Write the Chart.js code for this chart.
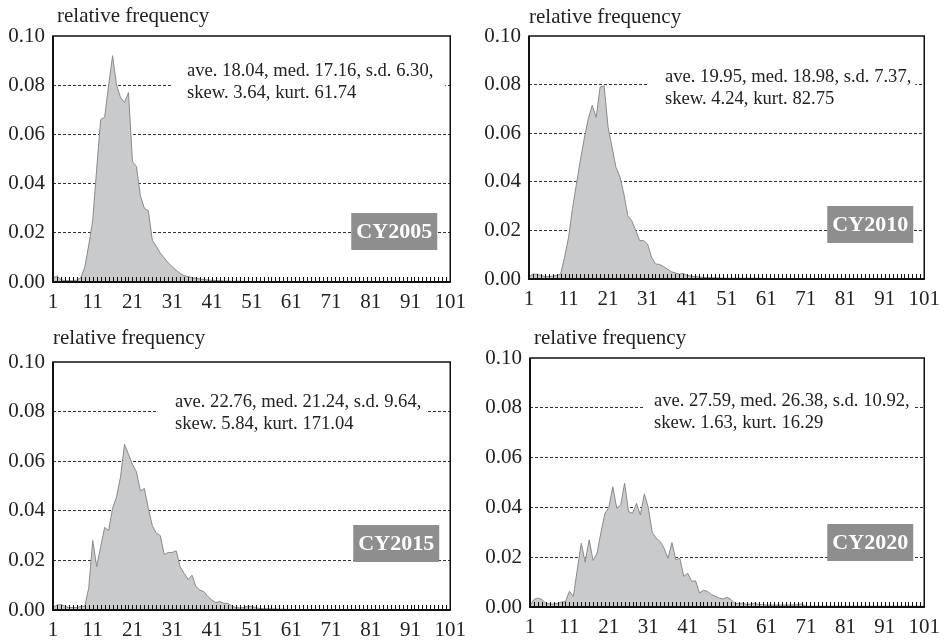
<!DOCTYPE html>
<html>
<head>
<meta charset="utf-8">
<script src="https://cdn.jsdelivr.net/npm/chart.js@4.4.0/dist/chart.umd.min.js"></script>
<style>
  body { margin: 0; background: #fff; }
  canvas { position: absolute; }
</style>
</head>
<body>
<canvas id="c2005" width="474" height="320" style="left:0;top:0"></canvas>
<canvas id="c2010" width="474" height="320" style="left:474px;top:0"></canvas>
<canvas id="c2015" width="474" height="321" style="left:0;top:320px"></canvas>
<canvas id="c2020" width="474" height="321" style="left:474px;top:320px"></canvas>
<script>
// bins 1..101, labelled every 10
const bins = Array.from({ length: 101 }, (_, i) => String(i + 1));
const xTickLabels = ["1", "11", "21", "31", "41", "51", "61", "71", "81", "91", "101"];

// relative frequency per bin
const freq2005 = [
  0.0015, 0.0025, 0.001, 0.0005, 0.0005, 0.0005, 0.0008, 0.0018, 0.006, 0.015,
  0.025, 0.046, 0.066, 0.067, 0.080, 0.092, 0.080, 0.075, 0.073, 0.077,
  0.049, 0.047, 0.035, 0.030, 0.029, 0.017, 0.0145, 0.0118, 0.0098, 0.0078,
  0.0062, 0.0048, 0.0035, 0.0026, 0.0022, 0.0018, 0.0015, 0.0012, 0.001, 0.0008,
  0.0007, 0.0006, 0.0005, 0.0004, 0.0004, 0.0003, 0.0003, 0.0003, 0.0003, 0.0002,
  0.0002, 0.0002, 0.0002, 0.0002, 0.0002, 0.0002, 0.0002, 0.0002, 0.0002, 0.0002,
  0.0002, 0.0002, 0.0002, 0.0002, 0.0002, 0.0002, 0.0002, 0.0002, 0.0002, 0.0002,
  0.0002, 0.0002, 0.0002, 0.0002, 0.0002, 0.0002, 0.0002, 0.0002, 0.0002, 0.0002,
  0.0002, 0.0002, 0.0002, 0.0002, 0.0002, 0.0002, 0.0002, 0.0002, 0.0002, 0.0002,
  0.0002, 0.0002, 0.0002, 0.0002, 0.0002, 0.0002, 0.0002, 0.0002, 0.0002, 0.0002,
  0.0002
];
const freq2010 = [
  0.001, 0.002, 0.002, 0.0015, 0.001, 0.001, 0.0012, 0.0015, 0.002, 0.009,
  0.017, 0.029, 0.039, 0.049, 0.058, 0.066, 0.0715, 0.0665, 0.079, 0.0795,
  0.0626, 0.0543, 0.046, 0.042, 0.035, 0.026, 0.024, 0.020, 0.0158, 0.0158,
  0.0144, 0.0089, 0.0062, 0.006, 0.0052, 0.0041, 0.003, 0.0025, 0.002, 0.0023,
  0.0015, 0.0012, 0.001, 0.0008, 0.0007, 0.0006, 0.0005, 0.0005, 0.0004, 0.0004,
  0.0003, 0.0003, 0.0003, 0.0003, 0.0003, 0.0003, 0.0003, 0.0003, 0.0003, 0.0003,
  0.0002, 0.0002, 0.0002, 0.0002, 0.0002, 0.0002, 0.0002, 0.0002, 0.0002, 0.0002,
  0.0002, 0.0002, 0.0002, 0.0002, 0.0002, 0.0002, 0.0002, 0.0002, 0.0002, 0.0002,
  0.0002, 0.0002, 0.0002, 0.0002, 0.0002, 0.0002, 0.0002, 0.0002, 0.0002, 0.0002,
  0.0002, 0.0002, 0.0002, 0.0002, 0.0002, 0.0002, 0.0002, 0.0002, 0.0002, 0.0002,
  0.0002
];
const freq2015 = [
  0.001, 0.002, 0.0022, 0.0015, 0.001, 0.001, 0.001, 0.0015, 0.0015, 0.009,
  0.028, 0.0175, 0.0255, 0.0333, 0.032, 0.041, 0.0456, 0.0537, 0.0668, 0.0628,
  0.0588, 0.0557, 0.048, 0.049, 0.041, 0.034, 0.031, 0.030, 0.0224, 0.0232,
  0.0232, 0.0239, 0.0175, 0.0148, 0.0123, 0.014, 0.0094, 0.008, 0.0074, 0.0054,
  0.004, 0.003, 0.0034, 0.0027, 0.0027, 0.0016, 0.001, 0.0008, 0.001, 0.0015,
  0.0015, 0.001, 0.0006, 0.0005, 0.0005, 0.0004, 0.0004, 0.0003, 0.0003, 0.0003,
  0.0002, 0.0002, 0.0002, 0.0002, 0.0002, 0.0002, 0.0002, 0.0002, 0.0002, 0.0002,
  0.0002, 0.0002, 0.0002, 0.0002, 0.0002, 0.0002, 0.0002, 0.0002, 0.0002, 0.0002,
  0.0002, 0.0002, 0.0002, 0.0002, 0.0002, 0.0002, 0.0002, 0.0002, 0.0002, 0.0002,
  0.0002, 0.0002, 0.0002, 0.0002, 0.0002, 0.0002, 0.0002, 0.0002, 0.0002, 0.0002,
  0.0002
];
const freq2020 = [
  0.0005, 0.003, 0.0036, 0.003, 0.0015, 0.0012, 0.0012, 0.0015, 0.002, 0.0022,
  0.0063, 0.0043, 0.015, 0.0256, 0.018, 0.027, 0.0187, 0.0216, 0.030, 0.0376,
  0.040, 0.0483, 0.0397, 0.041, 0.0497, 0.0383, 0.0376, 0.0416, 0.037, 0.0454,
  0.040, 0.030, 0.0276, 0.0263, 0.0236, 0.0196, 0.0259, 0.019, 0.0196, 0.0123,
  0.0136, 0.0103, 0.0105, 0.0056, 0.0067, 0.0063, 0.005, 0.0043, 0.0036, 0.0032,
  0.0039, 0.003, 0.0013, 0.0015, 0.0015, 0.001, 0.0012, 0.0015, 0.001, 0.001,
  0.0008, 0.0008, 0.0008, 0.0008, 0.0008, 0.0008, 0.0008, 0.0008, 0.001, 0.0012,
  0.0003, 0.0003, 0.0003, 0.0003, 0.0003, 0.0003, 0.0003, 0.0003, 0.0003, 0.0003,
  0.0003, 0.0003, 0.0003, 0.0003, 0.0003, 0.0003, 0.0003, 0.0003, 0.0003, 0.0003,
  0.0003, 0.0003, 0.0003, 0.0003, 0.0003, 0.0003, 0.0003, 0.0003, 0.0003, 0.0003,
  0.0003
];

const yearLabels = ["CY2005", "CY2010", "CY2015", "CY2020"];
const statsLine1 = [
  "ave. 18.04, med. 17.16, s.d. 6.30,",
  "ave. 19.95, med. 18.98, s.d. 7.37,",
  "ave. 22.76, med. 21.24, s.d. 9.64,",
  "ave. 27.59, med. 26.38, s.d. 10.92,"
];
const statsLine2 = [
  "skew. 3.64, kurt. 61.74",
  "skew. 4.24, kurt. 82.75",
  "skew. 5.84, kurt. 171.04",
  "skew. 1.63, kurt. 16.29"
];

const FONT = "'Liberation Serif', 'Times New Roman', serif";

// title, stats box, year badge, frame and the small inner ticks
const panelDecor = {
  id: "panelDecor",
  afterDatasetsDraw(chart, args, o) {
    const { ctx, chartArea: a, scales: { x } } = chart;
    ctx.save();

    // white box behind the stats text
    ctx.fillStyle = "#fff";
    ctx.fillRect(a.left + o.boxLeft, a.top + o.textTop - 22, a.right - o.boxRight - (a.left + o.boxLeft), 50);

    ctx.fillStyle = "#222";
    ctx.font = "18.6px " + FONT;
    ctx.textBaseline = "alphabetic";
    ctx.fillText(o.line1, a.left + o.textLeft, a.top + o.textTop);
    ctx.fillText(o.line2, a.left + o.textLeft, a.top + o.textTop + 22);

    // frame
    ctx.strokeStyle = "#111";
    ctx.lineWidth = 1.5;
    ctx.strokeRect(a.left, a.top, a.right - a.left, a.bottom - a.top);
    ctx.lineWidth = 2;
    ctx.beginPath();
    ctx.moveTo(a.left, a.top);
    ctx.lineTo(a.left, a.bottom);
    ctx.lineTo(a.right, a.bottom);
    ctx.stroke();

    // small ticks at every bin, pointing up into the plot
    ctx.strokeStyle = "#111";
    ctx.lineWidth = 1;
    ctx.beginPath();
    for (let i = 0; i < bins.length; i++) {
      const px = Math.round(x.getPixelForValue(i)) + 0.5;
      ctx.moveTo(px, a.bottom);
      ctx.lineTo(px, a.bottom - 5);
    }
    ctx.stroke();

    // year badge
    const bw = 86, bh = 37;
    const bx = a.right - o.badgeRight - bw, by = a.top + o.badgeTop;
    ctx.fillStyle = "#8e8e8e";
    ctx.fillRect(bx, by, bw, bh);
    ctx.fillStyle = "#fff";
    ctx.font = "bold 22px " + FONT;
    ctx.textAlign = "center";
    ctx.textBaseline = "middle";
    ctx.fillText(o.year, bx + bw / 2, by + bh / 2 + 1);

    // axis title
    ctx.fillStyle = "#222";
    ctx.font = "21px " + FONT;
    ctx.textAlign = "left";
    ctx.textBaseline = "alphabetic";
    ctx.fillText("relative frequency", a.left + o.titleLeft, a.top - o.titleUp);
    ctx.restore();
  }
};

function drawPanel(id, data, idx, lay) {
  const ctx = document.getElementById(id).getContext("2d");
  return new Chart(ctx, {
    type: "line",
    data: {
      labels: bins,
      datasets: [{
        data: data,
        fill: "origin",
        backgroundColor: "#c9cacc",
        borderColor: "#8a8a8a",
        borderWidth: 1,
        pointRadius: 0,
        tension: 0
      }]
    },
    options: {
      responsive: false,
      animation: false,
      events: [],
      layout: { padding: { top: lay.top, right: lay.right, left: 0, bottom: 0 } },
      plugins: {
        legend: { display: false },
        tooltip: { enabled: false },
        panelDecor: {
          line1: statsLine1[idx],
          line2: statsLine2[idx],
          year: yearLabels[idx],
          textLeft: lay.textLeft, textTop: lay.textTop,
          boxLeft: lay.boxLeft, boxRight: lay.boxRight,
          badgeRight: lay.badgeRight, badgeTop: lay.badgeTop,
          titleLeft: lay.titleLeft, titleUp: lay.titleUp
        }
      },
      scales: {
        x: {
          type: "category",
          offset: false,
          grid: { display: false, drawTicks: false },
          border: { display: false },
          ticks: {
            autoSkip: false,
            maxRotation: 0,
            padding: 8,
            color: "#222",
            font: { family: FONT, size: 21 },
            callback: (v, i) => (xTickLabels.includes(bins[i]) ? bins[i] : "")
          },
          afterFit: (s) => { s.height = lay.xh; }
        },
        y: {
          min: 0,
          max: 0.1,
          grid: {
            drawTicks: false,
            color: (c) => (c.tick.value > 0.001 && c.tick.value < 0.099 ? "#333" : "rgba(0,0,0,0)"),
            lineWidth: 1
          },
          border: { display: false, dash: [3, 2] },
          ticks: {
            stepSize: 0.02,
            padding: 8,
            color: "#222",
            font: { family: FONT, size: 21 },
            callback: (v) => v.toFixed(2)
          },
          afterFit: (s) => { s.width = lay.yw; }
        }
      }
    },
    plugins: [panelDecor]
  });
}

drawPanel("c2005", freq2005, 0, { top: 36, right: 21, xh: 38, yw: 53,
  textLeft: 134, textTop: 40, boxLeft: 119, boxRight: 5, badgeRight: 13, badgeTop: 177, titleLeft: 4, titleUp: 14 });
drawPanel("c2010", freq2010, 1, { top: 36, right: 17, xh: 41, yw: 55,
  textLeft: 136, textTop: 46, boxLeft: 119, boxRight: 9, badgeRight: 11, badgeTop: 170, titleLeft: 0, titleUp: 13 });
drawPanel("c2015", freq2015, 2, { top: 42, right: 20, xh: 31, yw: 53,
  textLeft: 122, textTop: 45, boxLeft: 104, boxRight: 23, badgeRight: 11, badgeTop: 163, titleLeft: 0, titleUp: 18 });
drawPanel("c2020", freq2020, 3, { top: 38, right: 17, xh: 34, yw: 56,
  textLeft: 124, textTop: 48, boxLeft: 114, boxRight: 11, badgeRight: 11, badgeTop: 166, titleLeft: 4, titleUp: 14 });
</script>
</body>
</html>
